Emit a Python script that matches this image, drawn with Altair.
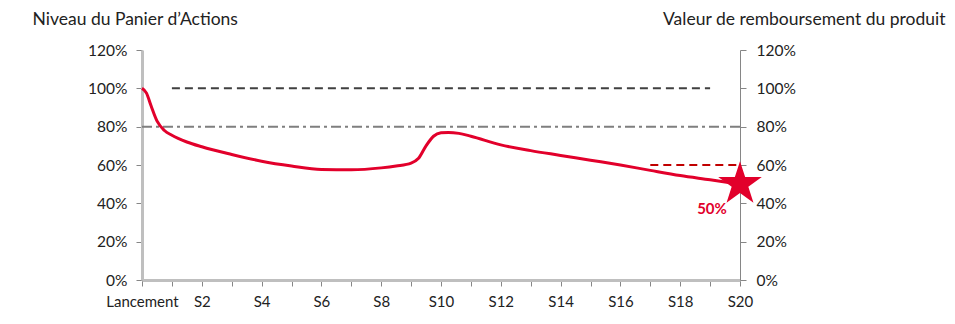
import altair as alt
import pandas as pd

# Basket level path (semesters, % of initial level)
t_vals = [0, 0.15, 0.3, 0.5, 0.75, 1, 1.5, 2, 3, 4, 5, 6, 7, 8, 8.5, 9, 9.25, 9.5, 9.75, 10, 10.25, 10.6, 11, 12, 13, 14, 15, 16, 17, 18, 19, 20]
v_vals = [100, 97.5, 91, 83, 78, 75.5, 72, 69.5, 65.5, 62, 59.5, 57.7, 57.5, 58.5, 59.5, 61, 63.5, 70, 75, 76.8, 77, 76.5, 75, 70.5, 67.5, 65, 62.5, 60, 57.2, 54.5, 52.3, 50]

# Reference levels
ref_names = ["Coupon", "Barriere", "Protection"]
ref_start = [1, 0, 17]
ref_end = [19, 20, 20]
ref_level = [100, 80, 60]

# Final value
final_t = [20]
final_v = [50]
final_label = ["50%"]

x_ticks = list(range(0, 21))
y_ticks = [0, 20, 40, 60, 80, 100, 120]

FONT = "Lato"
RED = "#E2002B"
STAR = ("M0,-1L0.2245,-0.309L0.9511,-0.309L0.3633,0.118L0.5878,0.809L0,0.382"
        "L-0.5878,0.809L-0.3633,0.118L-0.9511,-0.309L-0.2245,-0.309Z")

df = pd.DataFrame({"t": t_vals, "v": v_vals})
refs = pd.DataFrame({"name": ref_names, "t0": ref_start, "t1": ref_end, "v": ref_level})
fin = pd.DataFrame({"t": final_t, "v": final_v, "label": final_label})

xscale = alt.Scale(domain=[0, 20], nice=False, zero=False)
yscale = alt.Scale(domain=[0, 120], nice=False)

x_axis = alt.Axis(
    values=x_ticks,
    labelExpr="datum.value == 0 ? 'Lancement' : (datum.value % 2 == 0 ? 'S' + datum.value : '')",
    grid=False, title=None, domainColor="#BFBFBF", domainWidth=3,
    tickColor="#868686", tickSize=6, labelPadding=8, labelFontSize=15,
    labelFont=FONT, labelColor="#222222", labelFlush=False,
)

left_axis = alt.Axis(
    values=y_ticks, labelExpr="datum.value + '%'", grid=False,
    title="Niveau du Panier d\u2019Actions", titleAngle=0, titleAlign="left",
    titleBaseline="alphabetic", titleX=-110, titleY=-26, titleFont=FONT,
    titleFontSize=17.5, titleFontWeight="normal", titleColor="#222222",
    domainColor="#BFBFBF", domainWidth=3, tickColor="#868686", tickSize=6,
    labelPadding=9, labelFontSize=15.5, labelFont=FONT, labelColor="#222222",
)

right_axis = alt.Axis(
    orient="right", values=y_ticks, labelExpr="datum.value + '%'", grid=False,
    title="Valeur de remboursement du produit", titleAngle=0, titleAlign="right",
    titleBaseline="alphabetic", titleX=205, titleY=-26, titleFont=FONT,
    titleFontSize=17.5, titleFontWeight="normal", titleColor="#222222",
    domainColor="#868686", domainWidth=1, tickColor="#868686", tickSize=6,
    labelPadding=10, labelFontSize=15.5, labelFont=FONT, labelColor="#222222",
)

X = alt.X("t:Q", scale=xscale, axis=x_axis)

line = alt.Chart(df).mark_line(color=RED, strokeWidth=3, interpolate="monotone").encode(
    x=X,
    y=alt.Y("v:Q", scale=yscale, axis=left_axis),
)

def ref_layer(name, color, dash, width, axis):
    return alt.Chart(refs).transform_filter(alt.datum.name == name).mark_rule(
        color=color, strokeDash=dash, strokeWidth=width
    ).encode(
        x=alt.X("t0:Q", scale=xscale, axis=x_axis),
        x2="t1:Q",
        y=alt.Y("v:Q", scale=yscale, axis=axis),
    )

r100 = ref_layer("Coupon", "#404040", [8, 5], 2, left_axis)
r80 = ref_layer("Barriere", "#7F7F7F", [10, 4, 3, 4], 2, left_axis)
r60 = ref_layer("Protection", "#C00000", [8, 5], 2, right_axis)

star = alt.Chart(fin).mark_point(shape=STAR, filled=True, color=RED, size=2100, opacity=1).encode(
    x=X,
    y=alt.Y("v:Q", scale=yscale, axis=right_axis),
)

lbl = alt.Chart(fin).mark_text(color=RED, font=FONT, fontSize=15, fontWeight="bold", dx=-28, dy=25).encode(
    x=X,
    y=alt.Y("v:Q", scale=yscale, axis=right_axis),
    text="label:N",
)

left_group = alt.layer(r100, r80, line)
right_group = alt.layer(r60, star, lbl)

chart = alt.layer(left_group, right_group).resolve_scale(y="independent").properties(
    width=598, height=230,
    autosize=alt.AutoSizeParams(type="none"),
    padding={"left": 142, "top": 50, "right": 215, "bottom": 44},
    background="white",
).configure_view(stroke=None)

chart.save("out.html", embed_options={"renderer": "svg", "actions": False})
